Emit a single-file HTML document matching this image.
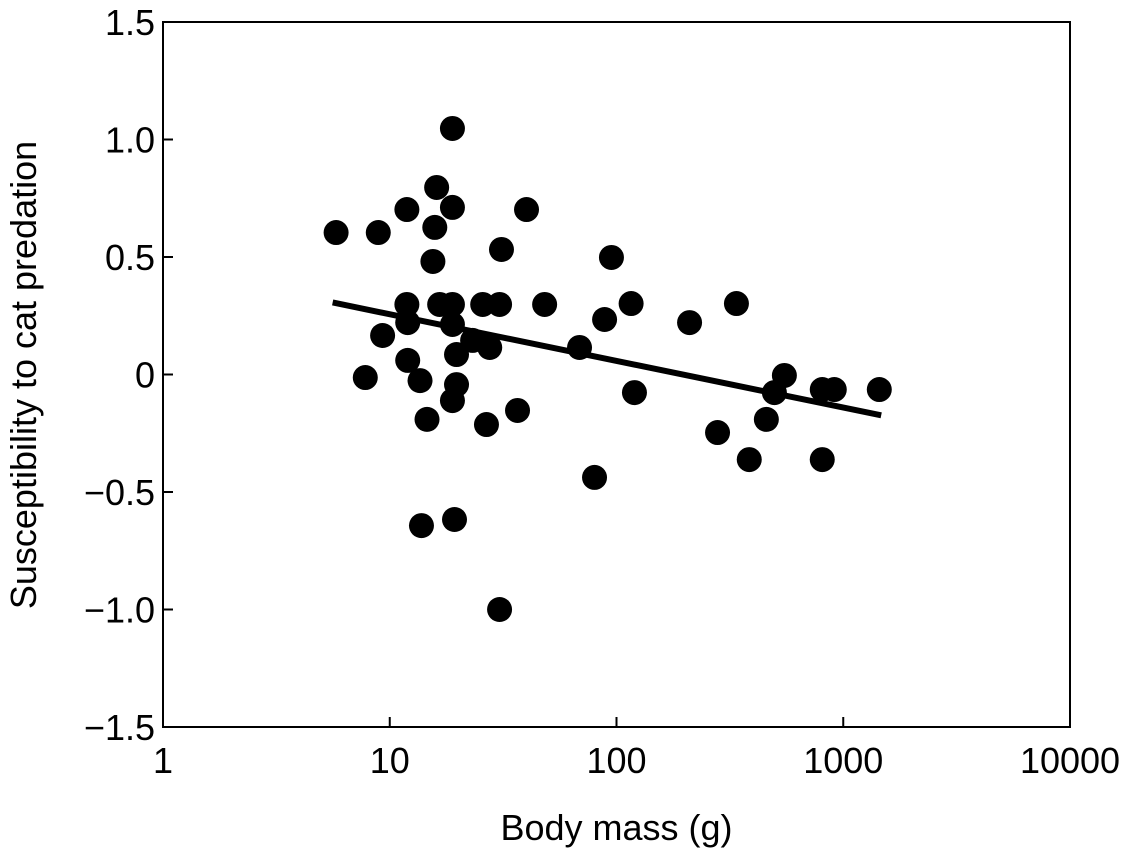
<!DOCTYPE html>
<html><head><meta charset="utf-8"><style>
html,body{margin:0;padding:0;background:#fff;}
svg{display:block;font-family:"Liberation Sans",sans-serif;}
</style></head><body>
<svg id="chart" width="1126" height="852" viewBox="0 0 1126 852" xmlns="http://www.w3.org/2000/svg"></svg>
<script>
const massG = [18.9,16.1,18.9,11.9,15.8,5.8,8.9,40.1,31.1,15.5,11.9,16.6,18.9,25.7,30.5,48.2,12.0,9.3,18.9,12.0,7.8,13.6,19.7,19.7,14.6,18.9,26.7,36.6,23.2,27.6,68.7,13.8,19.3,30.5,80,95,88.6,116,120,210,338,279,385,550,497,458,808,913,808,1442];
const susceptibility = [1.047,0.796,0.711,0.702,0.626,0.604,0.604,0.702,0.532,0.481,0.298,0.298,0.298,0.298,0.298,0.298,0.221,0.166,0.213,0.060,-0.013,-0.026,0.085,-0.043,-0.191,-0.111,-0.213,-0.153,0.145,0.115,0.115,-0.643,-0.617,-1.0,-0.438,0.498,0.234,0.302,-0.077,0.221,0.302,-0.247,-0.362,-0.004,-0.077,-0.191,-0.064,-0.064,-0.362,-0.064];
const fitIntercept = 0.455;
const fitSlope = -0.1985;
const fitRange = [5.6, 1470];
const xTicks = [1,10,100,1000,10000];
const xTickLabels = ["1","10","100","1000","10000"];
const yTicks = [1.5,1.0,0.5,0,-0.5,-1.0,-1.5];
const yTickLabels = ["1.5","1.0","0.5","0","\u22120.5","\u22121.0","\u22121.5"];

const L=163,R=1070,T=22,B=727;
const xs=v=>L+(Math.log10(v)-0)/4*(R-L);
const ys=v=>B-(v+1.5)/3*(B-T);
const svg=document.getElementById('chart');
const NS='http://www.w3.org/2000/svg';
function mk(tag,attrs,parent){const e=document.createElementNS(NS,tag);for(const k in attrs)e.setAttribute(k,attrs[k]);(parent||svg).appendChild(e);return e;}

const frame=mk('rect',{x:L,y:T,width:R-L,height:B-T,fill:'none',stroke:'#000','stroke-width':2});



xTicks.forEach((t,i)=>{
  const x=xs(t);
  const tk=mk('line',{x1:x,x2:x,y1:B,y2:B-10,stroke:'#000','stroke-width':2});
  
  
  const lb=mk('text',{x:x,y:B+46,'text-anchor':'middle','font-size':36});
  lb.textContent=xTickLabels[i];
  
  
});
yTicks.forEach((t,i)=>{
  const y=ys(t);
  const tk=mk('line',{x1:L,x2:L+10,y1:y,y2:y,stroke:'#000','stroke-width':2});
  
  
  const lb=mk('text',{x:L-8,y:y+13,'text-anchor':'end','font-size':36});
  lb.textContent=yTickLabels[i];
  
  
});

const xt=mk('text',{x:(L+R)/2,y:840,'text-anchor':'middle','font-size':36});
xt.textContent='Body mass  (g)';


const yt=mk('text',{x:0,y:0,'text-anchor':'middle','font-size':36,transform:'translate(36,375) rotate(-90)'});
yt.textContent='Susceptibility to cat  predation';



massG.forEach((m,i)=>{
  const c=mk('circle',{cx:xs(m),cy:ys(susceptibility[i]),r:12.5,fill:'#000'});
  
  
});

const f=x=>fitIntercept+fitSlope*Math.log10(x);
const ln=mk('line',{x1:xs(fitRange[0]),y1:ys(f(fitRange[0])),x2:xs(fitRange[1]),y2:ys(f(fitRange[1])),stroke:'#000','stroke-width':6});


</script>
</body></html>
